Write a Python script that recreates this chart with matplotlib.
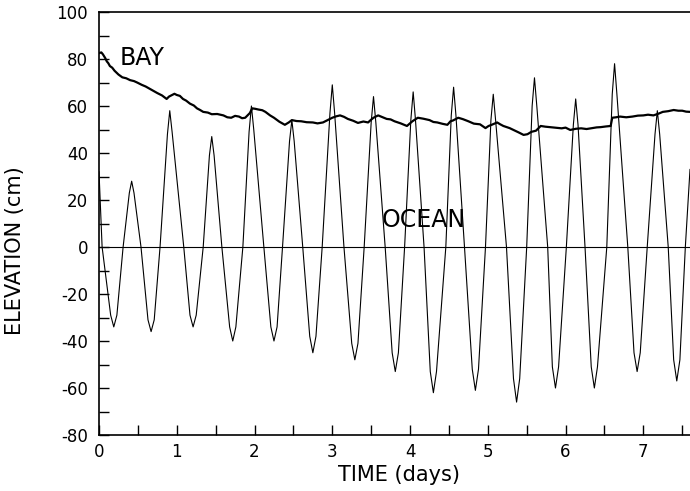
import matplotlib
matplotlib.use("Agg")
import matplotlib.pyplot as plt
from matplotlib.ticker import MultipleLocator

plt.rcParams['font.family'] = ['DejaVu Sans']
plt.rcParams['axes.unicode_minus'] = False

# Ocean tide record (time in days, elevation in cm)
ocean_t = [0.00, 0.04, 0.15, 0.19, 0.23, 0.31, 0.39, 0.42, 0.45, 0.54,
           0.63, 0.67, 0.71, 0.785, 0.88, 0.91, 0.94, 1.09,
           1.17, 1.21, 1.25, 1.34, 1.42, 1.45, 1.48, 1.58,
           1.68, 1.72, 1.76, 1.85, 1.93, 1.96, 1.99, 2.12,
           2.21, 2.25, 2.29, 2.36, 2.45, 2.48, 2.51, 2.62,
           2.71, 2.75, 2.79, 2.87, 2.97, 3.00, 3.03, 3.15,
           3.25, 3.29, 3.33, 3.41, 3.50, 3.53, 3.56, 3.68,
           3.77, 3.81, 3.85, 3.93, 4.01, 4.04, 4.07, 4.18,
           4.26, 4.30, 4.34, 4.46, 4.53, 4.56, 4.59, 4.70,
           4.80, 4.84, 4.88, 4.97, 5.04, 5.07, 5.10, 5.24,
           5.33, 5.37, 5.41, 5.50, 5.57, 5.60, 5.63, 5.77,
           5.83, 5.87, 5.91, 6.01, 6.10, 6.13, 6.16, 6.25,
           6.33, 6.37, 6.41, 6.53, 6.60, 6.63, 6.66, 6.80,
           6.88, 6.92, 6.96, 7.05, 7.15, 7.18, 7.21, 7.32,
           7.39, 7.43, 7.47, 7.54, 7.60]
ocean_y = [32, 0, -29, -34, -29, 0, 23, 28, 23, 0,
           -31, -36, -31, 0, 48, 58, 49, 0,
           -29, -34, -29, 0, 39, 47, 39, 0,
           -34, -40, -34, 0, 49, 60, 50, 0,
           -34, -40, -34, 0, 45, 54, 45, 0,
           -38, -45, -38, 0, 57, 69, 57, 0,
           -41, -48, -41, 0, 53, 64, 53, 0,
           -45, -53, -45, 0, 54, 66, 54, 0,
           -53, -62, -53, 0, 56, 68, 56, 0,
           -52, -61, -52, 0, 54, 65, 54, 0,
           -56, -66, -56, 0, 60, 72, 60, 0,
           -51, -60, -51, 0, 52, 63, 52, 0,
           -51, -60, -51, 0, 65, 78, 65, 0,
           -45, -53, -45, 0, 48, 58, 48, 0,
           -48, -57, -48, 0, 33]

# Bay record
bay_t = [0.00, 0.03, 0.05, 0.08, 0.10, 0.12, 0.14, 0.17, 0.20, 0.25,
         0.30, 0.35, 0.40, 0.45, 0.49, 0.55, 0.60, 0.67, 0.75, 0.81,
         0.87, 0.90, 0.93, 0.97, 1.00, 1.04, 1.08, 1.12, 1.17, 1.22,
         1.26, 1.30, 1.34, 1.40, 1.45, 1.52, 1.60, 1.65, 1.70, 1.75,
         1.80, 1.84, 1.88, 1.94, 1.97, 2.01, 2.05, 2.10, 2.14, 2.20,
         2.25, 2.32, 2.39, 2.44, 2.48, 2.54, 2.60, 2.67, 2.75, 2.81,
         2.88, 2.94, 3.00, 3.05, 3.10, 3.15, 3.20, 3.27, 3.33, 3.40,
         3.46, 3.50, 3.53, 3.59, 3.65, 3.70, 3.75, 3.80, 3.88, 3.96,
         4.03, 4.10, 4.17, 4.25, 4.30, 4.35, 4.42, 4.48, 4.52, 4.55,
         4.62, 4.68, 4.75, 4.82, 4.90, 4.97, 5.01, 5.05, 5.12, 5.16,
         5.20, 5.28, 5.35, 5.40, 5.46, 5.51, 5.56, 5.62, 5.68, 5.74,
         5.80, 5.88, 5.95, 6.00, 6.06, 6.13, 6.20, 6.27, 6.34, 6.40,
         6.45, 6.52, 6.58, 6.60, 6.65, 6.70, 6.78, 6.86, 6.93, 7.00,
         7.06, 7.13, 7.20, 7.25, 7.32, 7.39, 7.45, 7.50, 7.55, 7.60]
bay_y = [82.5, 82.8, 82.0, 80.4, 79.0, 78.2, 77.0, 76.3, 75.0, 73.4,
         72.2, 71.8, 71.0, 70.6, 70.0, 69.0, 68.3, 67.0, 65.5, 64.5,
         63.0, 64.0, 64.5, 65.2, 64.7, 64.3, 63.0, 62.3, 61.0, 60.2,
         59.0, 58.3, 57.5, 57.2, 56.5, 56.6, 56.0, 55.2, 55.0, 55.8,
         55.5, 54.8, 55.0, 57.0, 59.0, 58.8, 58.5, 58.2, 57.5, 56.0,
         55.0, 53.3, 52.0, 53.0, 54.0, 53.6, 53.5, 53.1, 53.0, 52.6,
         53.0, 54.0, 55.0, 55.6, 56.0, 55.4, 54.5, 53.7, 52.8, 53.4,
         53.0, 54.2, 55.0, 56.0, 55.2, 54.5, 54.3, 53.5, 52.6, 51.5,
         53.5, 55.0, 54.6, 54.0, 53.2, 53.0, 52.4, 52.0, 53.5, 53.8,
         55.0, 54.4, 53.5, 52.5, 52.2, 50.6, 51.5, 52.0, 53.0, 52.2,
         51.5, 50.6, 49.5, 48.7, 47.7, 48.0, 49.0, 49.5, 51.5, 51.2,
         51.0, 50.7, 50.5, 50.8, 49.8, 50.3, 50.5, 50.2, 50.6, 50.9,
         51.0, 51.3, 51.5, 55.0, 55.2, 55.5, 55.2, 55.5, 55.9, 56.0,
         56.3, 56.0, 56.8, 57.5, 57.8, 58.3, 58.0, 58.0, 57.6, 57.5]

x_ticks = [0, 1, 2, 3, 4, 5, 6, 7]
y_ticks = [-80, -60, -40, -20, 0, 20, 40, 60, 80, 100]

fig = plt.figure(figsize=(6.9, 4.91), dpi=100)
ax = fig.add_axes([99 / 690, 56 / 491, 1 - 99 / 690, 423 / 491])

ax.plot(ocean_t, ocean_y, color='black', lw=0.8)
ax.plot(bay_t, bay_y, color='black', lw=1.6)
ax.axhline(0, color='black', lw=0.8)

ax.set_xlim(0, 7.6)
ax.set_ylim(-80, 100)
ax.set_xticks(x_ticks)
ax.set_yticks(y_ticks)
ax.set_xticklabels([str(v) for v in x_ticks])
ax.set_yticklabels([str(v) for v in y_ticks])
ax.xaxis.set_minor_locator(MultipleLocator(0.5))
ax.yaxis.set_minor_locator(MultipleLocator(10))

ax.tick_params(axis='both', which='both', direction='in', length=7, width=1.0,
               top=False, right=False, labelsize=12)
ax.tick_params(axis='x', which='major', pad=6)
ax.tick_params(axis='y', which='major', pad=8)

for s in ['left', 'bottom', 'top']:
    ax.spines[s].set_linewidth(1.2)
ax.spines['right'].set_visible(False)

ax.set_xlabel('TIME (days)', fontsize=15)
ax.set_ylabel('ELEVATION (cm)', fontsize=15)
ax.xaxis.set_label_coords(0.508, -0.072)
ax.yaxis.set_label_coords(-0.125, 0.437)

ax.text(0.27, 77.4, 'BAY', fontsize=17, ha='left', va='baseline')
ax.text(3.64, 8.5, 'OCEAN', fontsize=17, ha='left', va='baseline')

fig.savefig('out.png', dpi=100)
